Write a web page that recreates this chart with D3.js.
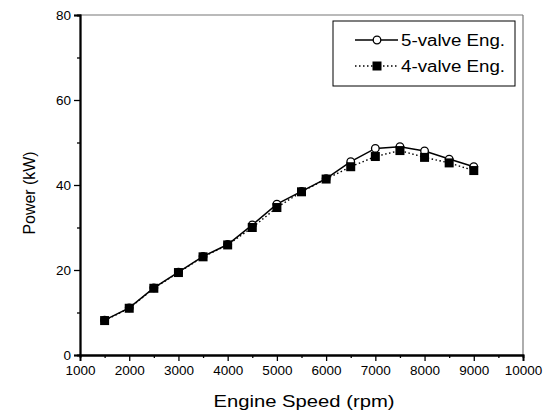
<!DOCTYPE html>
<html><head><meta charset="utf-8">
<script src="https://cdn.jsdelivr.net/npm/d3@7"></script>
<style>body{margin:0;background:#fff}svg{display:block}text{font-family:"Liberation Sans",Arial,sans-serif;fill:#000}</style>
</head><body>
<svg id="c" width="550" height="416"></svg>
<script>
const speeds = [1500,2000,2500,3000,3500,4000,4500,5000,5500,6000,6500,7000,7500,8000,8500,9000];
const valve5 = [8.2,11.1,15.8,19.5,23.2,26.0,30.6,35.5,38.5,41.5,45.5,48.6,49.0,48.0,46.1,44.3];
const valve4 = [8.1,11.0,15.7,19.4,23.1,25.9,30.0,34.7,38.4,41.4,44.3,46.7,48.1,46.5,45.2,43.4];
const xTicks = [1000,2000,3000,4000,5000,6000,7000,8000,9000,10000];
const yTicks = [0,20,40,60,80];
const seriesNames = ["5-valve Eng.","4-valve Eng."];

const svg = d3.select("#c");
const m = {l:80, r:523, t:15, b:355};
const x = d3.scaleLinear().domain([1000,10000]).range([m.l,m.r]);
const y = d3.scaleLinear().domain([0,80]).range([m.b,m.t]);

// frame top/right
svg.append("line").attr("x1",m.l).attr("x2",m.r).attr("y1",m.t).attr("y2",m.t).attr("stroke","#777").attr("stroke-width",1.2);
svg.append("line").attr("x1",m.r).attr("x2",m.r).attr("y1",m.t).attr("y2",m.b).attr("stroke","#777").attr("stroke-width",1.2);

// x axis
const xa = svg.append("g").attr("transform",`translate(0,${m.b})`);
xa.call(d3.axisBottom(x).tickValues(d3.range(1500,10000,1000)).tickSize(3).tickFormat(""));
const xa2 = svg.append("g").attr("transform",`translate(0,${m.b})`);
xa2.call(d3.axisBottom(x).tickValues(xTicks).tickSize(6).tickPadding(4).tickFormat(d3.format("d")));
xa2.selectAll("text").style("font-size","13.5px");

// y axis
const ya = svg.append("g").attr("transform",`translate(${m.l},0)`);
ya.call(d3.axisLeft(y).tickValues([10,30,50,70]).tickSize(3).tickFormat(""));
const ya2 = svg.append("g").attr("transform",`translate(${m.l},0)`);
ya2.call(d3.axisLeft(y).tickValues(yTicks).tickSize(6).tickPadding(3).tickFormat(d3.format("d")));
ya2.selectAll("text").style("font-size","13.5px");
svg.selectAll(".domain").attr("stroke-width",1.8);
svg.selectAll(".tick line").attr("stroke-width",1.3);

// titles
svg.append("text").attr("x",304).attr("y",407).attr("text-anchor","middle").style("font-size","17px")
  .attr("textLength",181).attr("lengthAdjust","spacingAndGlyphs").text("Engine Speed (rpm)");
svg.append("text").attr("transform",`translate(35,193) rotate(-90)`).attr("text-anchor","middle").style("font-size","16px")
  .attr("textLength",83).attr("lengthAdjust","spacingAndGlyphs").text("Power (kW)");

const line = d3.line().x((d,i)=>x(speeds[i])).y(d=>y(d));
svg.append("path").datum(valve4).attr("d",line).attr("fill","none").attr("stroke","#000").attr("stroke-width",1.4).attr("stroke-dasharray","1.5,2.5");
svg.append("path").datum(valve5).attr("d",line).attr("fill","none").attr("stroke","#000").attr("stroke-width",1.5);

svg.selectAll(".ci").data(valve5).enter().append("circle")
  .attr("cx",(d,i)=>x(speeds[i])).attr("cy",d=>y(d)).attr("r",3.8).attr("fill","#fff").attr("stroke","#000").attr("stroke-width",1.3);
svg.selectAll(".sq").data(valve4).enter().append("rect")
  .attr("x",(d,i)=>x(speeds[i])-4.5).attr("y",d=>y(d)-4.5).attr("width",9).attr("height",9).attr("fill","#000");

// legend
const lg = svg.append("g");
lg.append("rect").attr("x",333).attr("y",21).attr("width",182).attr("height",65).attr("fill","#fff").attr("stroke","#000").attr("stroke-width",1);
const rows = [40,66];
lg.append("line").attr("x1",355).attr("x2",398).attr("y1",rows[0]).attr("y2",rows[0]).attr("stroke","#000").attr("stroke-width",1.5);
lg.append("circle").attr("cx",377).attr("cy",rows[0]).attr("r",3.8).attr("fill","#fff").attr("stroke","#000").attr("stroke-width",1.3);
lg.append("line").attr("x1",355).attr("x2",398).attr("y1",rows[1]).attr("y2",rows[1]).attr("stroke","#000").attr("stroke-width",1.4).attr("stroke-dasharray","1.5,2.5");
lg.append("rect").attr("x",372.5).attr("y",rows[1]-4.5).attr("width",9).attr("height",9).attr("fill","#000");
seriesNames.forEach((n,i)=>lg.append("text").attr("x",401).attr("y",rows[i]+6).style("font-size","16px")
  .attr("textLength",104).attr("lengthAdjust","spacingAndGlyphs").text(n));
</script>
</body></html>
